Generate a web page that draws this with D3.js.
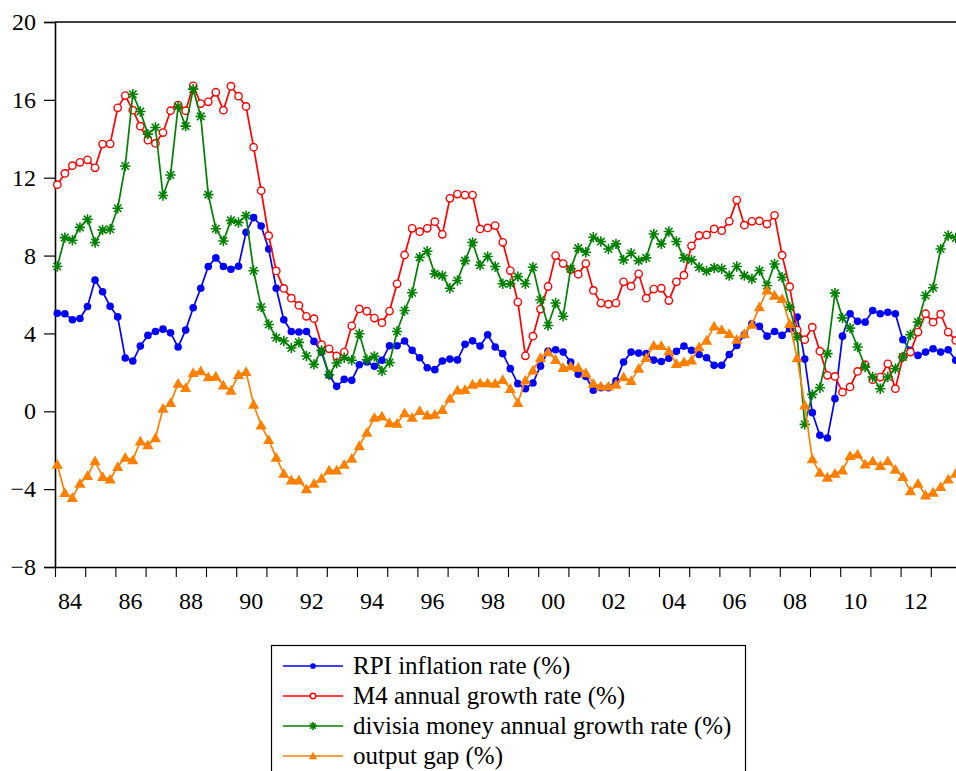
<!DOCTYPE html>
<html>
<head>
<meta charset="utf-8">
<script src="https://cdn.jsdelivr.net/npm/d3@7"></script>
<style>
  html, body { margin: 0; padding: 0; background: #fff; overflow: hidden; }
  svg { display: block; }
</style>
</head>
<body>
<svg id="chart" width="956" height="771"></svg>
<script>
// ---------------- DATA ----------------
const quarters = [
  "1984Q1","1984Q2","1984Q3","1984Q4","1985Q1","1985Q2","1985Q3","1985Q4",
  "1986Q1","1986Q2","1986Q3","1986Q4","1987Q1","1987Q2","1987Q3","1987Q4",
  "1988Q1","1988Q2","1988Q3","1988Q4","1989Q1","1989Q2","1989Q3","1989Q4",
  "1990Q1","1990Q2","1990Q3","1990Q4","1991Q1","1991Q2","1991Q3","1991Q4",
  "1992Q1","1992Q2","1992Q3","1992Q4","1993Q1","1993Q2","1993Q3","1993Q4",
  "1994Q1","1994Q2","1994Q3","1994Q4","1995Q1","1995Q2","1995Q3","1995Q4",
  "1996Q1","1996Q2","1996Q3","1996Q4","1997Q1","1997Q2","1997Q3","1997Q4",
  "1998Q1","1998Q2","1998Q3","1998Q4","1999Q1","1999Q2","1999Q3","1999Q4",
  "2000Q1","2000Q2","2000Q3","2000Q4","2001Q1","2001Q2","2001Q3","2001Q4",
  "2002Q1","2002Q2","2002Q3","2002Q4","2003Q1","2003Q2","2003Q3","2003Q4",
  "2004Q1","2004Q2","2004Q3","2004Q4","2005Q1","2005Q2","2005Q3","2005Q4",
  "2006Q1","2006Q2","2006Q3","2006Q4","2007Q1","2007Q2","2007Q3","2007Q4",
  "2008Q1","2008Q2","2008Q3","2008Q4","2009Q1","2009Q2","2009Q3","2009Q4",
  "2010Q1","2010Q2","2010Q3","2010Q4","2011Q1","2011Q2","2011Q3","2011Q4",
  "2012Q1","2012Q2","2012Q3","2012Q4","2013Q1","2013Q2","2013Q3","2013Q4"
];

const rpiInflation = [
  5.04,5.01,4.70,4.77,5.38,6.74,6.14,5.39,4.85,2.74,2.58,3.35,3.90,4.10,4.22,4.03,
  3.30,4.17,5.32,6.32,7.44,7.88,7.44,7.30,7.45,9.20,9.95,9.52,8.34,6.32,4.70,4.10,
  4.07,4.10,3.59,3.04,1.85,1.28,1.64,1.59,2.39,2.53,2.31,2.62,3.37,3.37,3.61,3.13,
  2.75,2.24,2.14,2.58,2.68,2.64,3.44,3.62,3.35,3.93,3.30,2.96,2.19,1.42,1.16,1.45,
  2.32,3.09,3.16,3.04,2.53,1.90,1.79,1.08,1.21,1.21,1.56,2.53,3.04,2.99,2.96,2.63,
  2.56,2.72,3.08,3.35,3.13,2.92,2.75,2.36,2.36,2.92,3.38,3.93,4.50,4.36,3.86,4.10,
  3.90,4.24,4.84,2.68,-0.07,-1.23,-1.37,0.65,3.86,5.01,4.62,4.58,5.18,5.01,5.09,5.01,
  3.68,3.13,2.87,3.04,3.21,3.04,3.16,2.62
];

const m4Growth = [
  11.64,12.22,12.62,12.79,12.92,12.51,13.73,13.74,15.59,16.22,15.47,14.65,13.93,13.76,14.32,15.44,
  15.73,15.44,16.72,15.81,15.90,16.39,15.47,16.70,16.19,15.66,13.57,11.33,9.02,7.21,6.31,5.81,
  5.44,4.88,4.76,3.42,3.21,2.84,3.04,4.39,5.26,5.14,4.79,4.55,5.15,6.55,8.03,9.40,
  9.23,9.40,9.74,9.09,10.94,11.16,11.11,11.11,9.37,9.42,9.54,8.68,7.23,5.61,2.85,3.86,
  5.25,6.41,8.00,7.59,7.28,7.04,7.59,6.21,5.56,5.50,5.56,6.65,6.43,7.06,5.81,6.28,
  6.32,5.69,6.65,6.99,8.50,9.03,9.06,9.37,9.28,9.76,10.85,9.56,9.76,9.78,9.62,10.07,
  8.02,6.40,4.17,3.68,4.32,3.09,1.85,1.79,0.98,1.25,2.05,2.39,1.62,1.76,2.44,1.16,
  2.79,3.04,4.07,5.01,4.58,4.99,4.07,3.64
];

const divisiaGrowth = [
  7.44,8.92,8.79,9.45,9.86,8.67,9.32,9.35,10.43,12.60,16.29,15.40,14.24,14.58,11.09,12.14,
  15.66,14.65,16.55,15.15,11.13,9.38,8.75,9.81,9.70,10.05,7.22,5.36,4.46,3.78,3.61,3.25,
  3.54,2.84,2.41,3.13,1.88,2.48,2.75,2.62,3.98,2.65,2.82,2.07,2.50,4.10,5.18,6.09,
  7.91,8.22,7.06,6.97,6.32,6.72,7.74,8.68,7.50,7.95,7.44,6.55,6.55,6.92,6.55,7.40,
  5.73,4.41,5.56,4.88,7.32,8.38,8.17,8.94,8.72,8.34,8.60,7.78,8.12,7.74,7.88,9.11,
  8.60,9.24,8.72,7.88,7.78,7.40,7.20,7.37,7.32,6.97,7.44,6.97,6.80,7.23,6.46,7.57,
  6.89,5.35,3.81,-0.67,0.87,1.21,2.96,6.07,4.80,4.27,3.30,2.27,1.76,1.16,1.76,2.19,
  2.79,3.93,4.58,5.95,6.35,8.34,9.03,8.90
];

const outputGap = [
  -2.74,-4.19,-4.44,-3.71,-3.32,-2.56,-3.37,-3.50,-2.85,-2.38,-2.51,-1.54,-1.74,-1.37,0.14,0.43,
  1.42,1.21,1.98,2.07,1.76,1.79,1.33,1.06,1.88,2.03,0.35,-0.72,-1.47,-2.38,-3.20,-3.54,
  -3.54,-4.00,-3.71,-3.45,-3.03,-3.03,-2.74,-2.43,-1.78,-1.09,-0.32,-0.26,-0.60,-0.63,-0.09,-0.32,
  0.02,-0.21,-0.17,0.07,0.65,1.08,1.11,1.38,1.45,1.45,1.42,1.62,1.16,0.43,1.59,2.10,
  2.75,3.04,2.65,2.24,2.31,2.24,1.97,1.42,1.28,1.28,1.38,1.76,1.56,2.19,2.75,3.38,
  3.36,3.09,2.44,2.53,2.62,3.30,3.64,4.36,4.19,3.98,3.68,3.98,4.46,5.35,6.21,5.95,
  5.78,4.50,2.74,0.31,-2.46,-3.15,-3.40,-3.20,-3.03,-2.29,-2.21,-2.72,-2.56,-2.80,-2.56,-2.99,
  -3.37,-4.10,-3.71,-4.31,-4.17,-3.88,-3.50,-3.20
];

const seriesNames = [
  "RPI inflation rate (%)",
  "M4 annual growth rate (%)",
  "divisia money annual growth rate (%)",
  "output gap (%)"
];

const yTickValues = [-8, -4, 0, 4, 8, 12, 16, 20];
const xTickYears = [1984,1985,1986,1987,1988,1989,1990,1991,1992,1993,1994,1995,1996,1997,1998,
                    1999,2000,2001,2002,2003,2004,2005,2006,2007,2008,2009,2010,2011,2012,2013];
const xLabelYears = [1984,1986,1988,1990,1992,1994,1996,1998,2000,2002,2004,2006,2008,2010,2012];
const xLabelTexts = ["84","86","88","90","92","94","96","98","00","02","04","06","08","10","12"];

// ---------------- LAYOUT ----------------
const W = 956, H = 771;
const plotLeft = 55, plotTop = 22, plotBottom = 567;
const yearWidth = 30.2;
const plotRight = plotLeft + 30 * yearWidth;
const FONT = "'Liberation Serif', 'Times New Roman', Times, serif";

const svg = d3.select("#chart");

const x = d3.scaleLinear().domain([1984, 2014]).range([plotLeft, plotRight]);
const y = d3.scaleLinear().domain([-8, 20]).range([plotBottom, plotTop]);

function qTime(q) {
  const yr = +q.slice(0, 4), qq = +q.slice(5);
  return yr + (qq - 1) / 4 + 0.076;
}

// frame
svg.append("line").attr("x1", plotLeft).attr("x2", W + 10).attr("y1", plotTop).attr("y2", plotTop)
  .attr("stroke", "#000").attr("stroke-width", 1.3);

// Y axis
const yAxis = d3.axisLeft(y).tickValues(yTickValues).tickSize(11).tickPadding(8).tickFormat(d3.format("d"));
const gy = svg.append("g").attr("transform", `translate(${plotLeft},0)`).call(yAxis)
  .attr("font-family", FONT).attr("font-size", 24);
gy.select(".domain").attr("stroke", "#000").attr("stroke-width", 1.6);
gy.selectAll(".tick line").attr("stroke", "#000").attr("stroke-width", 1.2);
gy.selectAll(".tick text").attr("font-family", FONT).attr("font-size", 24).attr("fill", "#000");

// X axis: tick marks at year starts
const xAxis = d3.axisBottom(x).tickValues(xTickYears).tickSize(10).tickFormat("");
const gx = svg.append("g").attr("transform", `translate(0,${plotBottom})`).call(xAxis);
gx.select(".domain").attr("d", `M${plotLeft},0.5H${W + 10}`).attr("stroke", "#000").attr("stroke-width", 1.6);
gx.selectAll(".tick line").attr("stroke", "#000").attr("stroke-width", 1.1);

// X labels centered mid-year
svg.append("g").selectAll("text")
  .data(xLabelYears)
  .join("text")
  .attr("x", (d) => x(d + 0.5))
  .attr("y", 609)
  .attr("text-anchor", "middle")
  .attr("font-family", FONT)
  .attr("font-size", 24)
  .attr("fill", "#000")
  .text((d, i) => xLabelTexts[i]);

// ---------------- SERIES ----------------
const series = [
  { values: rpiInflation, color: "#0000ff", marker: "dot" },
  { values: m4Growth, color: "#ff0000", marker: "ring" },
  { values: divisiaGrowth, color: "#008000", marker: "star" },
  { values: outputGap, color: "#ff8000", marker: "tri" }
];

const line = d3.line().x((d) => x(d.t)).y((d) => y(d.v));

function drawMarker(g, type, color, cx, cy, scale) {
  const s = scale || 1;
  if (type === "dot") {
    g.append("circle").attr("cx", cx).attr("cy", cy).attr("r", 3.8 * s).attr("fill", color);
  } else if (type === "ring") {
    g.append("circle").attr("cx", cx).attr("cy", cy).attr("r", 3.7 * s)
      .attr("fill", "#fff").attr("stroke", color).attr("stroke-width", 1.4);
  } else if (type === "star") {
    const r = 5.2 * s, d = r * 0.72;
    g.append("path")
      .attr("d", `M${cx - r},${cy}H${cx + r}M${cx},${cy - r}V${cy + r}M${cx - d},${cy - d}L${cx + d},${cy + d}M${cx - d},${cy + d}L${cx + d},${cy - d}`)
      .attr("stroke", color).attr("stroke-width", 1.6).attr("fill", "none");
  } else if (type === "tri") {
    const r = 5.6 * s;
    g.append("path")
      .attr("d", `M${cx},${cy - r}L${cx + r},${cy + r * 0.75}L${cx - r},${cy + r * 0.75}Z`)
      .attr("fill", color);
  }
}

series.forEach((s) => {
  const pts = quarters.map((q, i) => ({ t: qTime(q), v: s.values[i] }));
  const g = svg.append("g");
  g.append("path").datum(pts).attr("d", line)
    .attr("fill", "none").attr("stroke", s.color).attr("stroke-width", 1.7);
  pts.forEach((p) => drawMarker(g, s.marker, s.color, x(p.t), y(p.v)));
});

// ---------------- LEGEND ----------------
const legend = svg.append("g");
legend.append("rect").attr("x", 271.5).attr("y", 645.5).attr("width", 474).attr("height", 140)
  .attr("fill", "#fff").attr("stroke", "#000").attr("stroke-width", 1.2);
const rowY = [666, 696, 726, 756];
series.forEach((s, i) => {
  const yy = rowY[i];
  legend.append("line").attr("x1", 283).attr("x2", 343).attr("y1", yy).attr("y2", yy)
    .attr("stroke", s.color).attr("stroke-width", 1.7);
  drawMarker(legend, s.marker, s.color, 313, yy, 0.75);
  legend.append("text").attr("x", 353).attr("y", yy + 8)
    .attr("font-family", FONT).attr("font-size", 25).attr("fill", "#000")
    .text(seriesNames[i]);
});
</script>
</body>
</html>
